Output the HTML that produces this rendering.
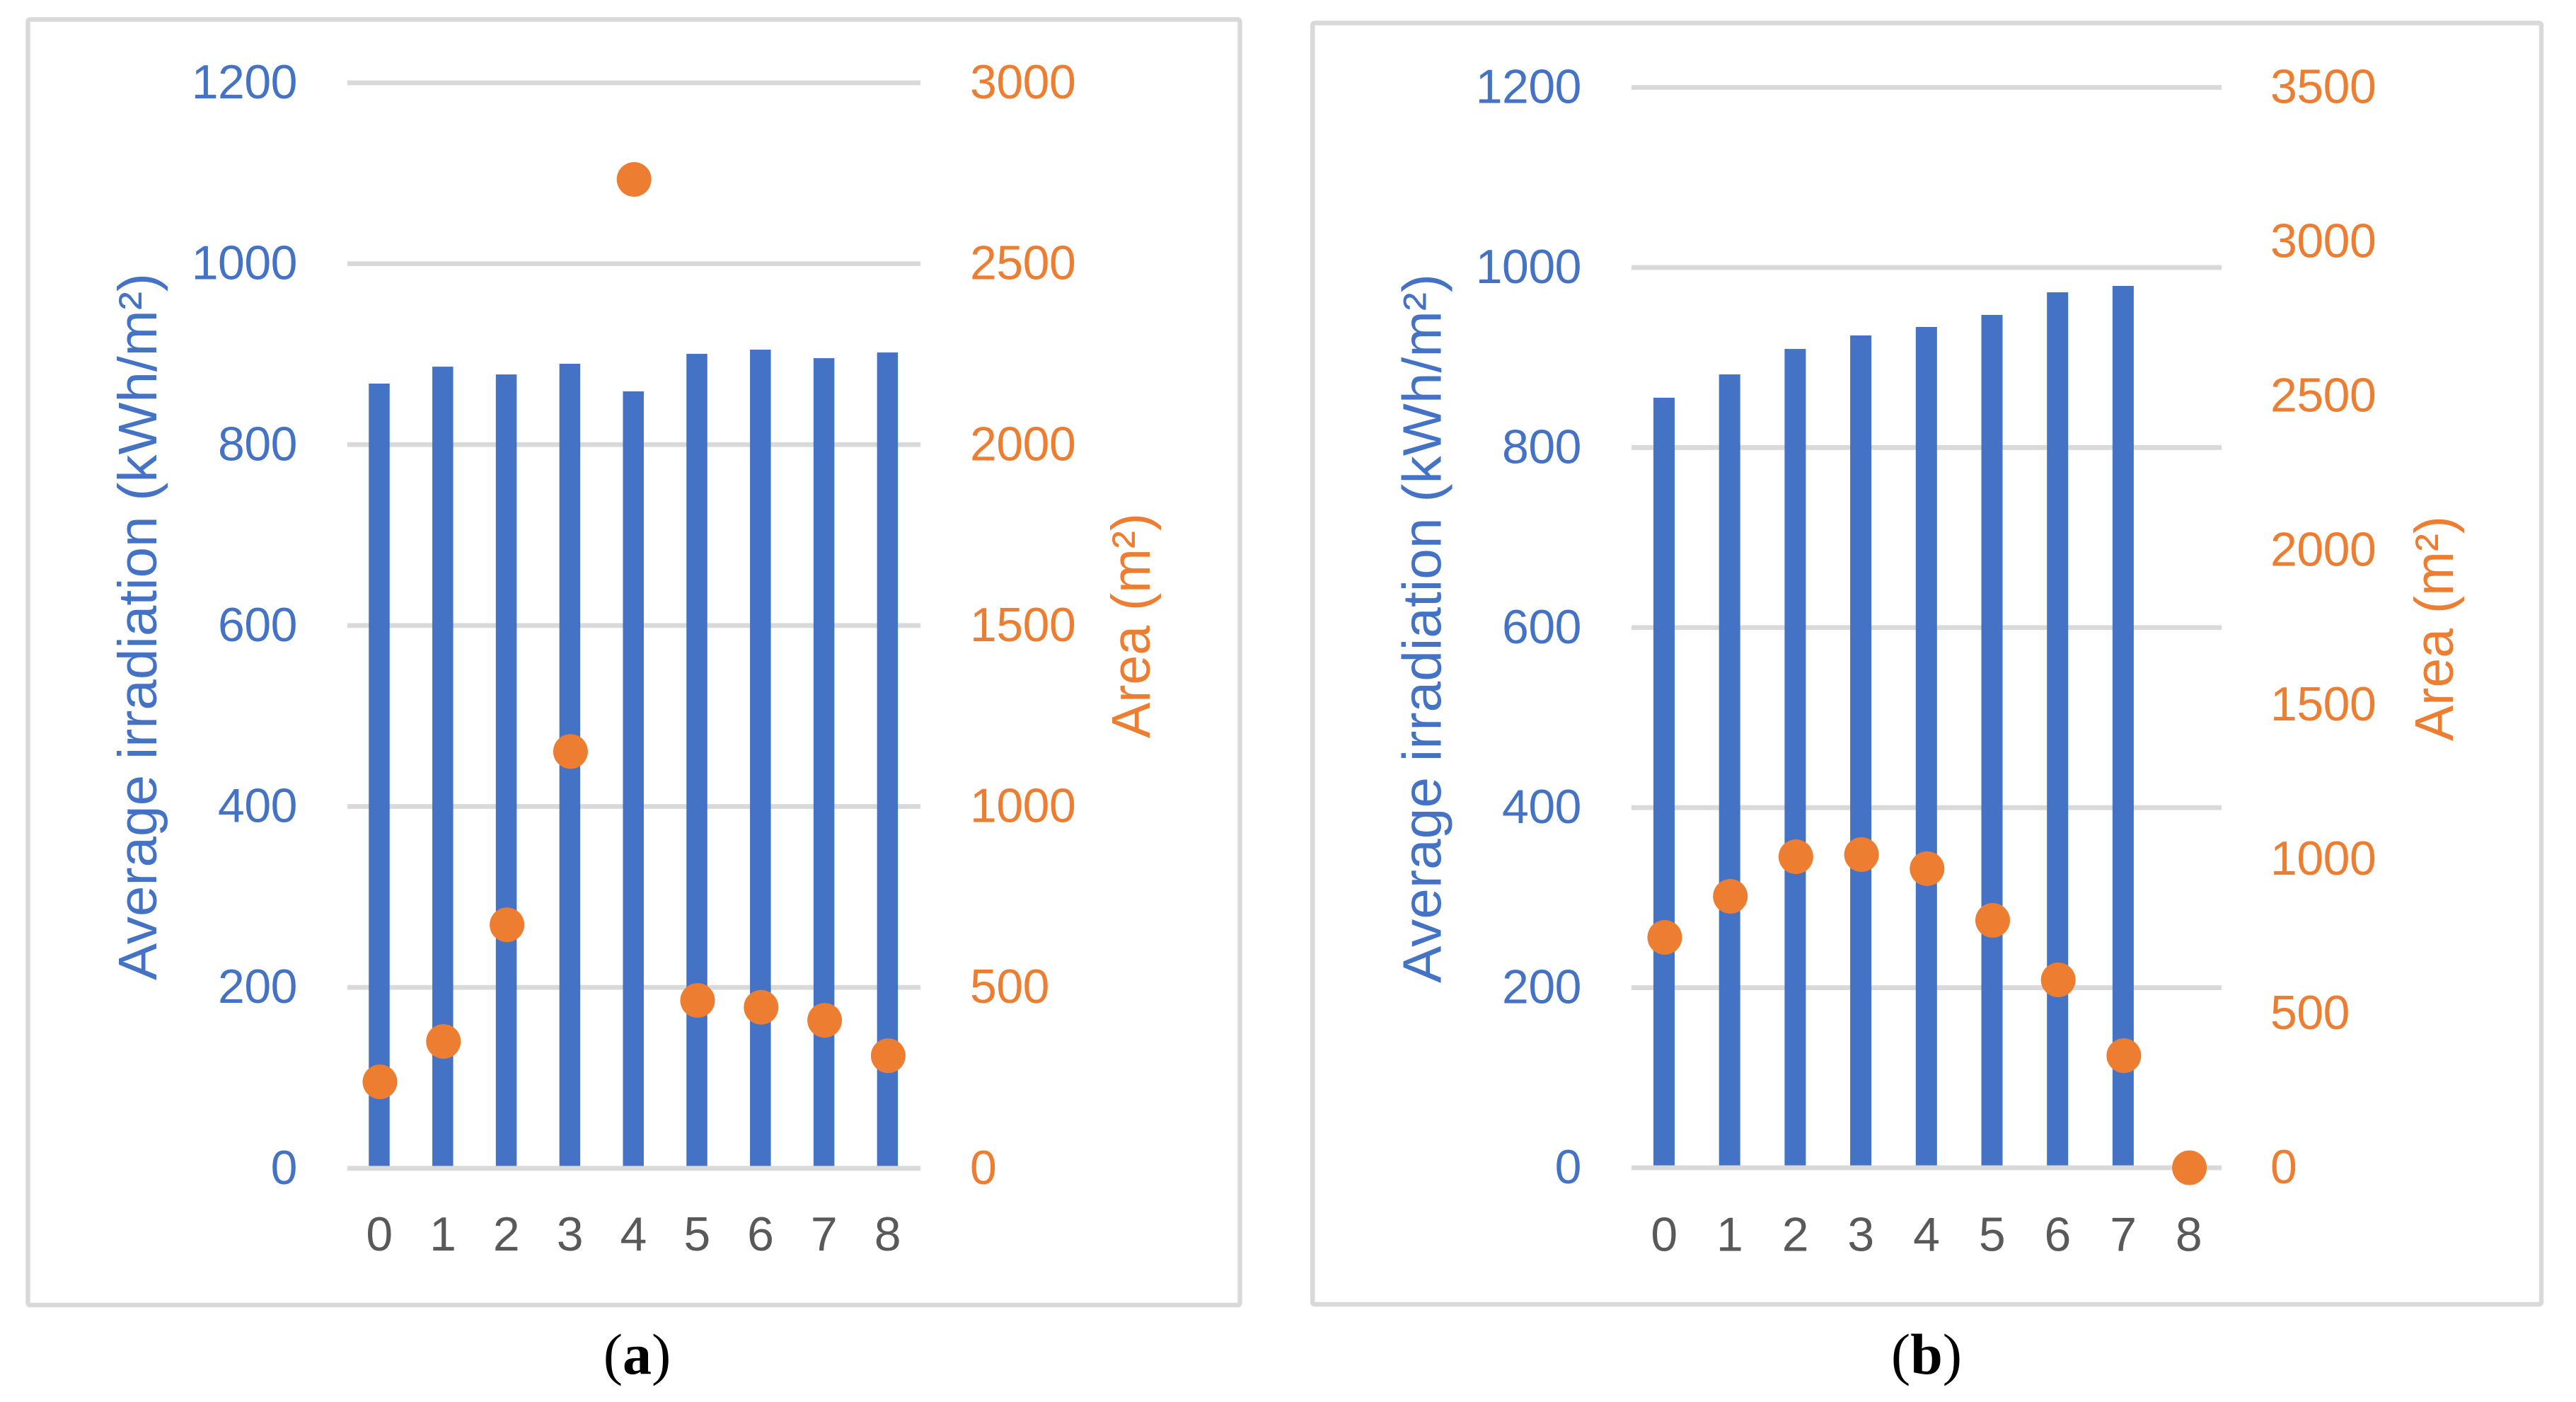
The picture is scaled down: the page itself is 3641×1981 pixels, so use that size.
<!DOCTYPE html>
<html lang="en">
<head>
<meta charset="utf-8">
<title>Average irradiation and area charts</title>
<style>
  html, body { margin: 0; padding: 0; background: #ffffff; }
  svg { display: block; }
  text { font-family: "Liberation Sans", sans-serif; }
  .tick { font-size: 68px; letter-spacing: -0.5px; }
  .title { font-size: 77px; }
  .caption { font-family: "Liberation Serif", serif; font-size: 82px; fill: #000000; }
  .frame { fill: #ffffff; stroke: #D9D9D9; stroke-width: 6.5; }
</style>
</head>
<body>
<svg id="figure" xmlns="http://www.w3.org/2000/svg" width="3641" height="1981" viewBox="0 0 3641 1981">
  <rect x="0" y="0" width="3641" height="1981" fill="#ffffff"/>

  <g id="panel-a">
    <rect class="frame" x="39.5" y="27.5" width="1713" height="1816.5" rx="3"/>
  </g>
  <g id="panel-b">
    <rect class="frame" x="1855.3" y="32.5" width="1736.7" height="1810.5" rx="3"/>
  </g>

  <text class="title" fill="#4472C4" transform="translate(221,1385) rotate(-90)" textLength="999" lengthAdjust="spacingAndGlyphs">Average irradiation (kWh/m²)</text>
  <text class="title" fill="#ED7D31" transform="translate(1625,1043) rotate(-90)" textLength="318" lengthAdjust="spacingAndGlyphs">Area (m²)</text>
  <text class="title" fill="#4472C4" transform="translate(2036.5,1389) rotate(-90)" textLength="1002" lengthAdjust="spacingAndGlyphs">Average irradiation (kWh/m²)</text>
  <text class="title" fill="#ED7D31" transform="translate(3467,1047) rotate(-90)" textLength="318" lengthAdjust="spacingAndGlyphs">Area (m²)</text>

  <text class="caption" x="900.5" y="1941" text-anchor="middle">(<tspan font-weight="bold">a</tspan>)</text>
  <text class="caption" x="2723" y="1941" text-anchor="middle">(<tspan font-weight="bold">b</tspan>)</text>
</svg>

<script>
const categoriesA = [0, 1, 2, 3, 4, 5, 6, 7, 8];
const categoriesB = [0, 1, 2, 3, 4, 5, 6, 7, 8];
const irradiationA = [867.5, 886.2, 877.6, 889.4, 858.9, 900.4, 905, 895.6, 901.9];
const areaA = [239, 350.5, 673, 1152, 2733, 464, 445, 409, 311];
const irradiationB = [855.3, 881.2, 909.5, 924.5, 933.9, 947.3, 972.4, 979.5, 0];
const areaB = [746.3, 879.3, 1007.7, 1014.6, 968.9, 801.5, 608.7, 363, 0];
const leftTicks = [0, 200, 400, 600, 800, 1000, 1200];
const rightTicksA = [0, 500, 1000, 1500, 2000, 2500, 3000];
const rightTicksB = [0, 500, 1000, 1500, 2000, 2500, 3000, 3500];

const SVG_NS = 'http://www.w3.org/2000/svg';
const BLUE = '#4472C4';
const ORANGE = '#ED7D31';
const GRID = '#D9D9D9';
const GREY = '#595959';

function svgEl(tag, parent) {
  const el = document.createElementNS(SVG_NS, tag);
  parent.appendChild(el);
  return el;
}

function drawPanel(cfg) {
  const root = document.getElementById(cfg.id);
  const plotH = cfg.base - cfg.top;
  const leftMax = Math.max.apply(null, cfg.leftTicks);
  const rightMax = Math.max.apply(null, cfg.rightTicks);
  const xScale = function (i) { return cfg.firstCenter + i * cfg.band; };
  const yLeft = function (v) { return cfg.base - (v / leftMax) * plotH; };
  const yRight = function (v) { return cfg.base - (v / rightMax) * plotH; };
  const labelDrop = 22;

  cfg.leftTicks.forEach(function (t) {
    if (t === 0) return;
    const line = svgEl('line', root);
    
    
    line.setAttribute('x1', cfg.gridLeft);
    line.setAttribute('x2', cfg.gridRight);
    line.setAttribute('y1', yLeft(t));
    line.setAttribute('y2', yLeft(t));
    line.setAttribute('stroke', GRID);
    line.setAttribute('stroke-width', 6.8);
  });

  cfg.bars.forEach(function (v, i) {
    if (v <= 0) return;
    const bar = svgEl('rect', root);
    
    
    bar.setAttribute('x', xScale(i) - cfg.barWidth / 2);
    bar.setAttribute('y', yLeft(v));
    bar.setAttribute('width', cfg.barWidth);
    bar.setAttribute('height', cfg.base - yLeft(v));
    bar.setAttribute('fill', BLUE);
  });

  const axisLine = svgEl('line', root);
  
  
  axisLine.setAttribute('x1', cfg.gridLeft);
  axisLine.setAttribute('x2', cfg.gridRight);
  axisLine.setAttribute('y1', cfg.base);
  axisLine.setAttribute('y2', cfg.base);
  axisLine.setAttribute('stroke', GRID);
  axisLine.setAttribute('stroke-width', 6.8);

  cfg.points.forEach(function (v, i) {
    const dot = svgEl('circle', root);
    
    
    dot.setAttribute('cx', xScale(i) + 1);
    dot.setAttribute('cy', yRight(v));
    dot.setAttribute('r', 24.5);
    dot.setAttribute('fill', ORANGE);
  });

  cfg.leftTicks.forEach(function (t) {
    const label = svgEl('text', root);
    
    
    label.setAttribute('class', 'tick');
    label.setAttribute('x', cfg.leftLabelRight);
    label.setAttribute('y', yLeft(t) + labelDrop);
    label.setAttribute('text-anchor', 'end');
    label.setAttribute('fill', BLUE);
    label.textContent = t;
  });

  cfg.rightTicks.forEach(function (t) {
    const label = svgEl('text', root);
    
    
    label.setAttribute('class', 'tick');
    label.setAttribute('x', cfg.rightLabelLeft);
    label.setAttribute('y', yRight(t) + labelDrop);
    label.setAttribute('text-anchor', 'start');
    label.setAttribute('fill', ORANGE);
    label.textContent = t;
  });

  cfg.categories.forEach(function (c, i) {
    const label = svgEl('text', root);
    
    
    label.setAttribute('class', 'tick');
    label.setAttribute('x', xScale(i));
    label.setAttribute('y', cfg.xLabelY);
    label.setAttribute('text-anchor', 'middle');
    label.setAttribute('fill', GREY);
    label.textContent = c;
  });
}

drawPanel({
  id: 'panel-a',
  categories: categoriesA,
  bars: irradiationA,
  points: areaA,
  leftTicks: leftTicks,
  rightTicks: rightTicksA,
  top: 117,
  base: 1650.8,
  gridLeft: 491,
  gridRight: 1301,
  firstCenter: 536,
  band: 89.8,
  barWidth: 29.5,
  leftLabelRight: 420,
  rightLabelLeft: 1371,
  xLabelY: 1767
});

drawPanel({
  id: 'panel-b',
  categories: categoriesB,
  bars: irradiationB,
  points: areaB,
  leftTicks: leftTicks,
  rightTicks: rightTicksB,
  top: 123.5,
  base: 1650,
  gridLeft: 2306,
  gridRight: 3140,
  firstCenter: 2352,
  band: 92.7,
  barWidth: 30,
  leftLabelRight: 2235,
  rightLabelLeft: 3209,
  xLabelY: 1767.5
});
</script>
</body>
</html>
